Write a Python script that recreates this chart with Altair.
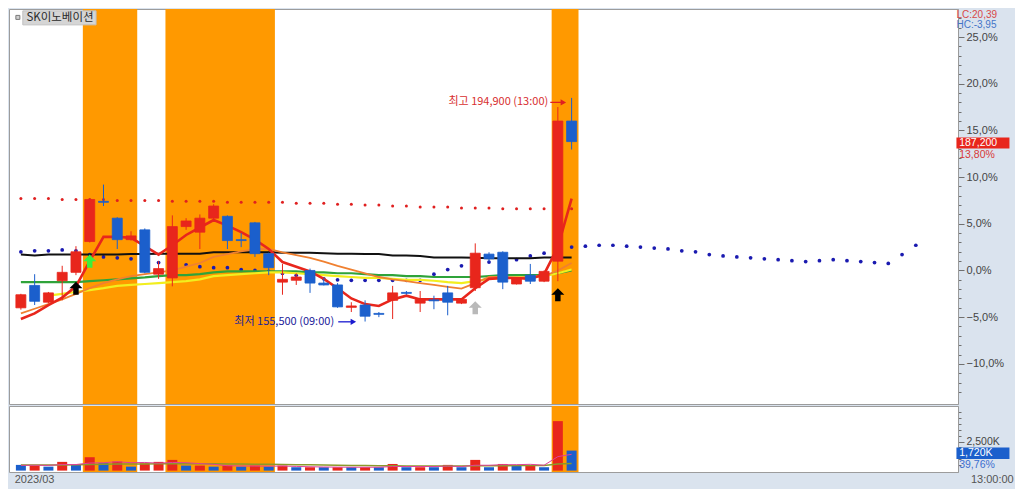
import altair as alt
import pandas as pd

FONT = "Noto Sans CJK KR"
NUMFONT = "Liberation Sans"
RED = "#E8261C"
BLUE = "#1B5FCC"

# ---------------- price candles (% vs. reference price) ----------------
opens = [-4.0, -1.6, -3.4, -1.1, -0.2, 3.1, 7.4, 5.6, 3.3, 4.35,
         -0.4, -0.8, 4.7, 4.1, 5.6, 5.8, 3.3, 5.1, 1.8, -1.25,
         -1.05, 0.0, -1.35, -1.55, -3.95, -3.7, -4.6, -3.2, -2.35, -3.5,
         -3.15, -2.4, -3.5, -1.85, 1.75, 1.95, -1.45, -0.5, -1.15, 1.0, 16.0]
highs = [-2.5, -0.4, -2.3, 0.5, 2.6, 7.7, 9.2, 5.7, 4.2, 4.5,
         1.0, 5.9, 5.6, 6.0, 7.1, 5.9, 4.0, 5.2, 1.9, 0.7,
         -0.3, 0.2, -0.8, -1.35, -3.4, -3.2, -4.45, -1.65, -2.2, -2.2,
         -2.7, -1.65, -3.0, 2.9, 1.95, 2.05, -0.8, 0.7, 0.0, 17.5, 18.48]
lows = [-4.2, -3.7, -3.5, -3.2, -0.5, 3.0, 6.9, 2.3, 3.2, -0.3,
        -0.9, -1.7, 4.35, 2.3, 5.4, 2.3, 2.5, 1.45, -0.5, -2.6,
        -1.55, -2.4, -1.6, -4.0, -4.45, -5.47, -5.0, -5.2, -2.6, -4.45,
        -4.15, -4.8, -3.6, -2.2, 0.95, -2.0, -1.5, -1.45, -1.25, -1.15, 12.95]
closes = [-2.6, -3.3, -2.4, -0.2, 2.0, 7.6, 7.3, 3.3, 3.7, -0.2,
          0.2, 4.7, 5.3, 5.6, 6.9, 3.2, 3.2, 1.8, 0.3, -0.95,
          -0.7, -1.35, -1.55, -3.9, -3.8, -4.9, -4.7, -2.4, -2.45, -3.1,
          -3.25, -3.4, -3.1, 1.85, 1.25, -1.25, -0.85, -1.15, -0.1, 16.0, 13.8]

# moving averages / indicators
ma_red = [-5.2, -4.6, -3.7, -2.9, -1.7, 1.0, 3.6, 3.6, 3.5, 2.6,
          1.7, 2.7, 3.8, 4.6, 5.4, 4.8, 4.1, 3.3, 2.3, 0.9,
          0.4, -0.1, -0.9, -1.9, -3.0, -3.6, -3.8, -3.1, -2.7, -3.1,
          -3.1, -3.1, -3.1, -1.9, -0.9, -0.8, -0.8, -0.9, -0.4, 2.5, 7.7]
ma_orange = [-4.6, -4.1, -3.6, -3.1, -2.5, -1.9, -1.35, -0.95, -0.6, -0.4,
             -0.2, 0.0, 0.4, 0.8, 1.45, 1.75, 2.05, 2.3, 2.3, 1.95,
             1.65, 1.35, 0.95, 0.5, 0.1, -0.3, -0.7, -0.95, -1.15, -1.35,
             -1.55, -1.75, -1.95, -1.35, -0.7, -0.7, -0.8, -0.7, -0.6, 0.0, 0.8]
ma_yellow = [None, None, -2.7, -2.5, -2.3, -2.1, -1.9, -1.65, -1.55, -1.45,
             -1.35, -1.25, -1.15, -0.95, -0.6, -0.5, -0.4, -0.3, -0.2, -0.2,
             -0.3, -0.4, -0.5, -0.6, -0.7, -0.8, -0.8, -0.9, -1.0, -1.0,
             -1.1, -1.25, -1.35, -1.15, -0.9, -0.8, -0.75, -0.7, -0.6, -0.3, 0.1]
ma_green = [-1.25, -1.25, -1.25, -1.25, -1.25, -1.15, -1.05, -0.95, -0.85, -0.75,
            -0.6, -0.5, -0.5, -0.4, -0.2, -0.1, -0.1, -0.1, -0.1, -0.1,
            -0.1, -0.2, -0.2, -0.3, -0.3, -0.4, -0.5, -0.5, -0.6, -0.6,
            -0.7, -0.7, -0.7, -0.7, -0.6, -0.5, -0.5, -0.5, -0.5, -0.3, 0.0]
ma_black = [1.7, 1.6, 1.7, 1.7, 1.7, 1.7, 1.7, 1.7, 1.75, 1.75,
            1.8, 1.8, 1.8, 1.8, 1.95, 1.95, 1.95, 1.95, 1.95, 1.9,
            1.9, 1.9, 1.85, 1.8, 1.8, 1.75, 1.75, 1.6, 1.6, 1.55,
            1.4, 1.4, 1.4, 1.35, 1.3, 1.3, 1.3, 1.3, 1.4, 1.4, 1.4]
red_dots = [7.7, 7.7, 7.7, 7.6, 7.6, 7.6, 7.6, 7.5, 7.5, 7.5,
            7.5, 7.4, 7.4, 7.4, 7.4, 7.3, 7.3, 7.3, 7.3, 7.3,
            7.2, 7.2, 7.2, 7.1, 7.1, 7.0, 7.0, 6.9, 6.9, 6.8,
            6.8, 6.8, 6.7, 6.7, 6.7, 6.6, 6.6, 6.6, 6.6, 6.6, 6.6]
blue_dots = [2.0, 2.1, 2.1, 2.2, 2.1, 1.7, 1.45, 1.35, 1.25, 1.05,
             0.85, 0.75, 0.6, 0.4, 0.3, 0.3, 0.1, 0.0, -0.1, -0.3,
             -0.5, -0.7, -0.9, -1.0, -1.05, -1.05, -1.05, -1.05, -1.05, -1.05,
             -0.4, 0.1, 0.5, 0.7, 0.9, 1.05, 1.15, 1.55, 1.85, 2.2,
             2.5, 2.6, 2.7, 2.7, 2.6, 2.5, 2.4, 2.3, 2.1, 2.0,
             1.7, 1.55, 1.45, 1.35, 1.25, 1.15, 1.05, 0.95, 1.05, 1.15,
             1.05, 0.95, 0.85, 0.75, 1.7, 2.7]

# ---------------- volume (K shares) ----------------
volumes = [490, 430, 340, 750, 490, 1150, 630, 780, 340, 630,
           750, 920, 430, 430, 340, 430, 340, 430, 340, 430,
           290, 290, 290, 290, 290, 290, 290, 570, 290, 290,
           290, 490, 290, 920, 290, 570, 490, 430, 290, 4250, 1720]
vol_dir = ["down", "up", "down", "up", "down", "up", "down", "up", "down", "up",
           "up", "up", "down", "up", "down", "up", "down", "up", "down", "up",
           "down", "up", "down", "up", "down", "up", "down", "up", "down", "up",
           "down", "up", "down", "up", "down", "up", "down", "up", "down", "up", "down"]
vol_ma_short = [450, 460, 450, 520, 520, 650, 680, 760, 680, 700,
                640, 700, 680, 600, 540, 420, 400, 390, 380, 390,
                360, 330, 310, 300, 290, 290, 290, 350, 350, 350,
                350, 390, 350, 460, 460, 510, 510, 540, 460, 1200, 1400]
vol_ma_long = [480, 480, 480, 490, 500, 520, 540, 560, 560, 570,
               580, 590, 590, 590, 580, 570, 560, 550, 540, 520,
               510, 500, 480, 460, 440, 430, 420, 410, 400, 400,
               400, 400, 400, 420, 420, 420, 430, 430, 430, 560, 620]

# highlighted periods (candle index ranges)
band_start = [4.5, 10.5, 38.55]
band_end = [8.45, 18.45, 40.5]

# ---------------- frames ----------------
n = len(closes)
idx = list(range(n))
cd = pd.DataFrame({"i": idx, "open": opens, "high": highs, "low": lows, "close": closes})
cd["dir"] = ["up" if c >= o else "down" for o, c in zip(opens, closes)]
bands = pd.DataFrame({"s": band_start, "e": band_end})

def line_df(vals):
    d = pd.DataFrame({"i": list(range(len(vals))), "v": vals})
    return d.dropna()

xscale = alt.Scale(domain=[-0.5, 67.7], nice=False, zero=False)
yscale = alt.Scale(domain=[-14.3, 28.0], nice=False, zero=False)
vscale = alt.Scale(domain=[-120, 5550], nice=False, zero=False)

yax = alt.Axis(
    orient="right", title=None, grid=False,
    values=list(range(-13, 28)),
    labelExpr="datum.value % 5 === 0 ? replace(format(datum.value, '.1f'), '.', ',') + '%' : ''",
    tickSize={"condition": {"test": "datum.value % 5 === 0", "value": 6}, "value": 3},
    labelPadding=2, labelFont=NUMFONT, labelFontSize=11, labelColor="#454545",
    tickColor="#707070", domainColor="#9a9a9a", labelOverlap=False,
)
vax = alt.Axis(
    orient="right", title=None, grid=False,
    values=list(range(500, 5001, 500)),
    labelExpr="datum.value === 2500 ? '2,500K' : ''",
    tickSize={"condition": {"test": "datum.value === 2500", "value": 6}, "value": 3},
    labelPadding=2, labelFont=NUMFONT, labelFontSize=10.5, labelColor="#454545",
    tickColor="#707070", domainColor="#9a9a9a", labelOverlap=False,
)

def X(f):
    return alt.X(f"{f}:Q", scale=xscale, axis=None)

def Y(f):
    return alt.Y(f"{f}:Q", scale=yscale, axis=yax)

def YV(f):
    return alt.Y(f"{f}:Q", scale=vscale, axis=vax)

dircol = alt.Color("dir:N", scale=alt.Scale(domain=["up", "down"], range=[RED, BLUE]), legend=None)

def txt(df, size=11, font=FONT, **kw):
    return alt.Chart(df).mark_text(font=font, fontSize=size, baseline="middle", **kw)

# ---------------- price panel ----------------
band_layer = alt.Chart(bands).mark_rect(color="#FF9900").encode(x=X("s"), x2="e")

title_box = alt.Chart(pd.DataFrame({"a": [0.14], "b": [5.46], "y1": [27.8], "y2": [26.3]})).mark_rect(
    color="#d5d5d5", stroke="#c0c0c0", strokeWidth=1).encode(x=X("a"), x2="b", y=Y("y1"), y2="y2")
title_txt = txt(pd.DataFrame({"i": [0.4], "y": [27.05], "t": ["SK이노베이션"]}), size=11.5,
                align="left", color="#2a2a2a").encode(x=X("i"), y=Y("y"), text="t:N")
title_icon = alt.Chart(pd.DataFrame({"i": [-0.22], "y": [27.1]})).mark_square(
    size=16, color="#cfcfcf", stroke="#7a7a7a", strokeWidth=1, opacity=1).encode(x=X("i"), y=Y("y"))

red_dot_layer = alt.Chart(line_df(red_dots)).mark_circle(size=9, color="#E02020", opacity=1).encode(x=X("i"), y=Y("v"))
blue_dot_layer = alt.Chart(line_df(blue_dots)).mark_circle(size=14, color="#1A1AB0", opacity=1).encode(x=X("i"), y=Y("v"))

def ma(vals, color, w):
    return alt.Chart(line_df(vals)).mark_line(color=color, strokeWidth=w).encode(x=X("i"), y=Y("v"))

lines = [ma(ma_black, "#111111", 2), ma(ma_green, "#2FA33A", 2.2), ma(ma_yellow, "#F2EE1E", 2.2),
         ma(ma_orange, "#F08030", 1.8), ma(ma_red, "#E8261C", 2.6)]

wick = alt.Chart(cd).mark_rule(strokeWidth=1).encode(x=X("i"), y=Y("low"), y2="high", color=dircol)
body = alt.Chart(cd).mark_bar(size=10, strokeWidth=0.8).encode(
    x=X("i"), y=Y("open"), y2="close", color=dircol, stroke=dircol)

ARROW = "M0,-1L1,0L0.42,0L0.42,1L-0.42,1L-0.42,0L-1,0Z"
arrows = alt.Chart(pd.DataFrame({"i": [4, 5, 33, 39], "y": [-1.9, 1.0, -4.0, -2.6],
                                 "c": ["#000000", "#3CEF3C", "#b9b9b9", "#000000"]})).mark_point(
    shape=ARROW, filled=True, size=170, opacity=1).encode(x=X("i"), y=Y("y"), color=alt.Color("c:N", scale=None))

hi_txt = txt(pd.DataFrame({"i": [38.3], "y": [18.0], "t": ["최고 194,900 (13:00)"]}),
             align="right", color="#D83030").encode(x=X("i"), y=Y("y"), text="t:N")
hi_line = alt.Chart(pd.DataFrame({"a": [38.45], "b": [39.35], "y": [18.0]})).mark_rule(
    color="#E02020", strokeWidth=1.3).encode(x=X("a"), x2="b", y=Y("y"))
hi_head = alt.Chart(pd.DataFrame({"i": [39.4], "y": [18.0]})).mark_point(
    shape="triangle-right", filled=True, size=40, color="#E02020", opacity=1).encode(x=X("i"), y=Y("y"))

lo_txt = txt(pd.DataFrame({"i": [22.75], "y": [-5.5], "t": ["최저 155,500 (09:00)"]}),
             align="right", color="#22229A").encode(x=X("i"), y=Y("y"), text="t:N")
lo_line = alt.Chart(pd.DataFrame({"a": [23.05], "b": [24.1], "y": [-5.5]})).mark_rule(
    color="#1A1AD0", strokeWidth=1.3).encode(x=X("a"), x2="b", y=Y("y"))
lo_head = alt.Chart(pd.DataFrame({"i": [24.15], "y": [-5.5]})).mark_point(
    shape="triangle-right", filled=True, size=40, color="#1A1AD0", opacity=1).encode(x=X("i"), y=Y("y"))

lc_txt = txt(pd.DataFrame({"i": [67.95], "y": [27.4], "t": ["LC:20,39"]}), size=10, font=NUMFONT,
             align="left", color="#D84848").encode(x=X("i"), y=Y("y"), text="t:N")
hc_txt = txt(pd.DataFrame({"i": [67.95], "y": [26.27], "t": ["HC:-3,95"]}), size=10, font=NUMFONT,
             align="left", color="#4575C8").encode(x=X("i"), y=Y("y"), text="t:N")
price_box = alt.Chart(pd.DataFrame({"a": [67.95], "b": [71.8], "y1": [14.25], "y2": [13.05]})).mark_rect(
    color="#E8261C").encode(x=X("a"), x2="b", y=Y("y1"), y2="y2")
price_box_txt = txt(pd.DataFrame({"i": [68.15], "y": [13.65], "t": ["187,200"]}), size=10.5, font=NUMFONT,
                    align="left", color="white").encode(x=X("i"), y=Y("y"), text="t:N")
price_pct_txt = txt(pd.DataFrame({"i": [68.15], "y": [12.4], "t": ["13,80%"]}), size=10.5, font=NUMFONT,
                    align="left", color="#D83838").encode(x=X("i"), y=Y("y"), text="t:N")

price = alt.layer(
    band_layer, title_box, title_txt, title_icon, red_dot_layer, blue_dot_layer, *lines,
    wick, body, arrows, hi_txt, hi_line, hi_head, lo_txt, lo_line, lo_head,
    lc_txt, hc_txt, price_box, price_box_txt, price_pct_txt,
).properties(width=949, height=395)

# ---------------- volume panel ----------------
vd = pd.DataFrame({"i": idx, "v": volumes, "dir": vol_dir, "zero": [0] * n})
vband = alt.Chart(bands).mark_rect(color="#FF9900").encode(x=X("s"), x2="e")
vbars = alt.Chart(vd).mark_bar(size=10).encode(x=X("i"), y=YV("v"), y2="zero", color=dircol)
vline_long = alt.Chart(line_df(vol_ma_long)).mark_line(color="#8a9a2a", strokeWidth=1.5).encode(x=X("i"), y=YV("v"))
vline_short = alt.Chart(line_df(vol_ma_short)).mark_line(color="#E0409A", strokeWidth=1).encode(x=X("i"), y=YV("v"))
vbox = alt.Chart(pd.DataFrame({"a": [67.95], "b": [71.8], "y1": [1980], "y2": [990]})).mark_rect(
    color="#1B5FCC").encode(x=X("a"), x2="b", y=YV("y1"), y2="y2")
vbox_txt = txt(pd.DataFrame({"i": [68.15], "y": [1485], "t": ["1,720K"]}), size=10.5, font=NUMFONT,
               align="left", color="white").encode(x=X("i"), y=YV("y"), text="t:N")
vpct_txt = txt(pd.DataFrame({"i": [68.15], "y": [480], "t": ["39,76%"]}), size=10.5, font=NUMFONT,
               align="left", color="#3A6FD0").encode(x=X("i"), y=YV("y"), text="t:N")
date_txt = txt(pd.DataFrame({"i": [-0.45], "y": [-800], "t": ["2023/03"]}), font=NUMFONT,
               align="left", color="#555555").encode(x=X("i"), y=YV("y"), text="t:N")
time_txt = txt(pd.DataFrame({"i": [69.0], "y": [-800], "t": ["13:00:00"]}), font=NUMFONT,
               align="left", color="#555555").encode(x=X("i"), y=YV("y"), text="t:N")

volume = alt.layer(
    vband, vbars, vline_long, vline_short, vbox, vbox_txt, vpct_txt, date_txt, time_txt,
).properties(width=949, height=66)

chart = alt.vconcat(price, volume, spacing=0).properties(
    background="#DAE3EE",
    padding={"left": 0, "top": 0, "right": 0, "bottom": 3},
).configure_view(fill="white", stroke="#9c9c9c", strokeWidth=1)

chart.save("out.html", embed_options={"renderer": "svg", "actions": False})
